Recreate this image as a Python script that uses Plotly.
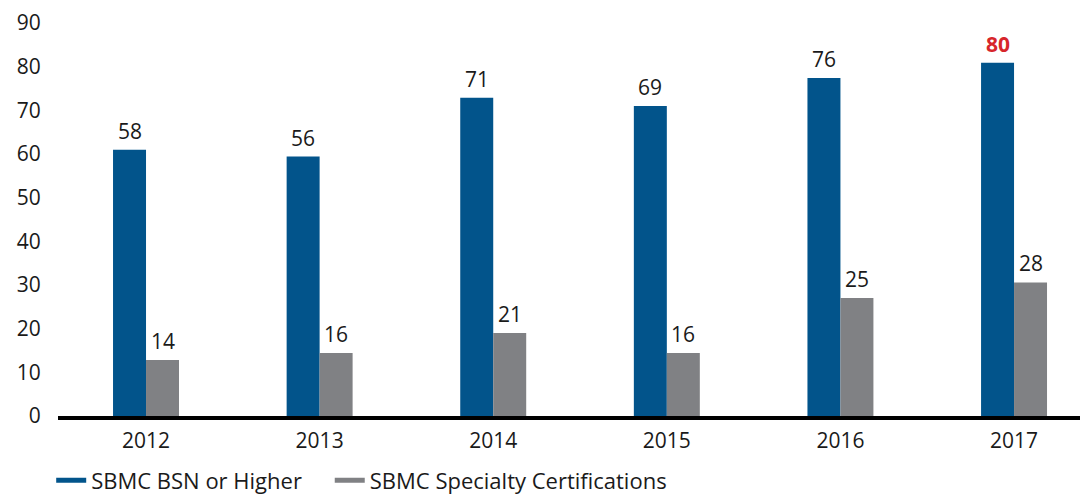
import plotly.graph_objects as go

years = ["2012", "2013", "2014", "2015", "2016", "2017"]

# bar heights as drawn in the source (they differ slightly from the printed labels)
bsn_values = [61.0, 59.4, 72.9, 71.0, 77.4, 80.9]
cert_values = [12.8, 14.4, 19.0, 14.4, 27.0, 30.6]

# printed labels
bsn_labels = ["58", "56", "71", "69", "76", "80"]
cert_labels = ["14", "16", "21", "16", "25", "28"]

y_ticks = [0, 10, 20, 30, 40, 50, 60, 70, 80, 90]

BLUE = "#02548B"
GRAY = "#808184"
RED = "#D7262B"
INK = "#1a1a1a"
FONT = "Open Sans"

fig = go.Figure()
fig.add_trace(
    go.Bar(x=years, y=bsn_values, name="SBMC BSN or Higher",
           marker=dict(color=BLUE, line=dict(width=0)), showlegend=False)
)
fig.add_trace(
    go.Bar(x=years, y=cert_values, name="SBMC Specialty Certifications",
           marker=dict(color=GRAY, line=dict(width=0)), showlegend=False)
)

# legend entries drawn as short thick dashes, like the original
nbsp = "\u00a0" * 4
for name, color in [("SBMC BSN or Higher" + nbsp, BLUE), ("SBMC Specialty Certifications", GRAY)]:
    fig.add_trace(
        go.Scatter(x=[None], y=[None], mode="lines", name=name,
                   line=dict(color=color, width=5))
    )

# value labels above each bar (x given as category index)
half_bar = 16.5
for i, (val, lab) in enumerate(zip(bsn_values, bsn_labels)):
    last = i == len(years) - 1
    fig.add_annotation(
        x=i, y=val, xref="x", yref="y",
        text=f"<b>{lab}</b>" if last else lab, showarrow=False,
        xshift=-half_bar, yshift=3, yanchor="bottom",
        font=dict(size=21, color=RED if last else INK),
    )
for i, (val, lab) in enumerate(zip(cert_values, cert_labels)):
    fig.add_annotation(
        x=i, y=val, xref="x", yref="y",
        text=lab, showarrow=False,
        xshift=half_bar, yshift=3, yanchor="bottom",
        font=dict(size=21, color=INK),
    )

# page body has an 8px margin, so the figure is sized/offset to compensate
fig.update_layout(
    width=1080, height=487,
    barmode="group", bargap=0.62, bargroupgap=0,
    plot_bgcolor="white", paper_bgcolor="white",
    font=dict(family=FONT, size=21, color=INK),
    margin=dict(l=50, r=0, t=15, b=79, autoexpand=False),
    legend=dict(
        orientation="h", xref="container", yref="container",
        x=0.04, y=0.03, xanchor="left", yanchor="middle",
        font=dict(size=22), itemwidth=30, traceorder="normal",
    ),
)
fig.update_xaxes(
    type="category", range=[-0.507, 5.426],
    showline=True, linecolor="black", linewidth=3.5,
    ticks="outside", ticklen=3, tickcolor="rgba(0,0,0,0)",
    showgrid=False, zeroline=False,
)
fig.update_yaxes(
    range=[0, 90], tickvals=y_ticks,
    showgrid=False, zeroline=False, showline=False,
    ticks="outside", ticklen=12, tickcolor="rgba(0,0,0,0)",
)

fig.write_html("out.html")
